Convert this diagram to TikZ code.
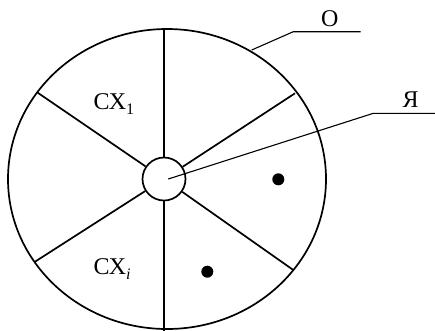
\documentclass[tikz,border=0pt]{standalone}
\usepackage{fontspec}
\setmainfont{Liberation Serif}
\usetikzlibrary{shapes.geometric}
\newcommand{\mysub}[1]{\raisebox{-5pt}{\fontsize{16}{16}\selectfont #1}}
\begin{document}
\begin{tikzpicture}[x=1pt,y=-1pt,
  heavy/.style={line width=1.7pt},
  leader/.style={line width=1.1pt},
  lbl/.style={inner sep=0pt,font=\fontsize{24}{28}\selectfont},
  dotmark/.style={circle,fill=black,minimum size=12pt,inner sep=0pt}]
\useasboundingbox (0,0) rectangle (435,330);
\node[heavy,draw,ellipse,minimum width=318pt,minimum height=300pt,inner sep=0pt] (outer) at (167,179) {};
\node[heavy,draw,circle,minimum size=43pt,inner sep=0pt] (core) at (164,179) {};
\coordinate (ul) at (37.7,92.7);
\coordinate (ur) at (295,93.3);
\coordinate (ll) at (35,261.7);
\coordinate (lr) at (293.3,270);
\coordinate (tp) at (164,29.3);
\coordinate (bt) at (164,331);
\foreach \p in {ul,ur,ll,lr,tp,bt} \draw[heavy] (core) -- (\p);
% leader O
\coordinate (oA) at (251.7,50);
\coordinate (oB) at (293.3,31.7);
\coordinate (oC) at (360.7,31.7);
\draw[leader] (oA) -- (oB) -- (oC);
\node[lbl,anchor=base] (lblO) at (329.7,26.5) {О};
% leader Ya
\coordinate (yA) at (168.3,179);
\coordinate (yB) at (373.3,113.3);
\coordinate (yC) at (436,113.3);
\draw[leader] (yA) -- (yB) -- (yC);
\node[lbl,anchor=base] (lblYa) at (410.5,107.5) {Я};
% sector labels
\node[lbl,anchor=base west] (cx1) at (93.3,109.5) {СХ\mysub{1}};
\node[lbl,anchor=base west] (cxi) at (93.3,274.5) {СХ\mysub{\textit{i}}};
% dots
\node[dotmark] (d1) at (278.3,179.3) {};
\node[dotmark] (d2) at (207.3,271.7) {};
\end{tikzpicture}
\end{document}
